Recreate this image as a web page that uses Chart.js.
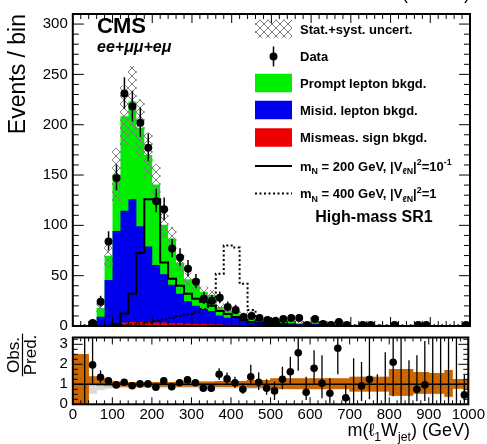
<!DOCTYPE html>
<html><head><meta charset="utf-8">
<script src="https://cdn.jsdelivr.net/npm/chart.js@4.4.1/dist/chart.umd.min.js"></script>
<style>
html,body{margin:0;padding:0;background:#fff;}
#wrap{position:relative;width:487px;height:444px;overflow:hidden;background:#fff;}
#wrap canvas{position:absolute;left:0;top:0;}
</style></head><body>
<div id="wrap"><canvas id="main" width="487" height="444"></canvas><canvas id="ratio" width="487" height="444"></canvas></div>
<script>
// ---------------- data ----------------
const binEdges = [0,20,40,60,80,100,120,140,160,180,200,220,240,260,280,300,320,340,360,380,400,420,440,460,480,500,520,540,560,580,600,620,640,660,680,700,720,740,760,780,800,820,840,860,880,900,920,940,960,980,1000];
const observed = [null,0,3,24,84,147,231,218,202,177, 124,116,77,68,57,44,27,25,28,19, 16,9,10,8,6,5,7,8,8,1, 7,2,1,4,1,0,1,1,0,0, 1,0,0,1,1,0,0,0,0,1];
const observedErrDown = [0,0,1.6,4.9,9.1,12.1,15.2,14.8,14.2,13.3, 11.1,10.8,8.8,8.2,7.5,6.6,5.2,5.0,5.3,4.3, 4.0,2.9,3.1,2.8,2.4,2.2,2.6,2.8,2.8,0.8, 2.6,1.3,0.8,1.9,0.8,0,0.8,0.8,0,0, 0.8,0,0,0.8,0.8,0,0,0,0,0.8];
const observedErrUp = [0,1.8,2.9,6.0,10.2,13.1,16.2,15.8,15.2,14.3, 12.2,11.8,9.8,9.3,8.6,7.7,6.3,6.1,6.3,5.4, 5.1,4.1,4.3,3.9,3.6,3.4,3.8,3.9,3.9,2.3, 3.8,2.6,2.3,3.2,2.3,1.8,2.3,2.3,1.8,1.8, 2.3,1.8,1.8,2.3,2.3,1.8,1.8,1.8,1.8,2.3];
const promptBkg = [0.2,0.2,0.5,8.7,24,56,94,97,98,91, 80,49,46,31,22,21,17,16,8.5,6.7, 6.8,5,3,3,3.3,3.4,2.6,2.2,1.3,0.6, 1.7,0.7,0.7,0.6,1.3,0.35,0.5,0.35,0.6,0.3, 0.2,0.2,0.4,0.6,0.5,0.2,0.2,0.2,0.2,1.0];
const misidBkg = [0.1,0.2,1.0,9,45,92,111,122,95,75, 57,48,38,29,22,18,15,13,9,7, 7,6,3.5,3.5,3.5,3.5,2.5,2.2,1.4,0.8, 1.8,0.9,0.8,0.6,1.4,0.35,0.5,0.35,0.5,0.3, 0.2,0.15,0.4,0.6,0.4,0.15,0.15,0.15,0.15,0.9];
const mismeasBkg = [0,0,0,0.3,0.8,2.5,3.5,4,4,4, 3.5,3.5,3,3,2.5,2.2,2,1.8,1.5,1.3, 1.2,1,0.8,0.8,0.7,0.6,0.5,0.5,0.4,0.3, 0.4,0.3,0.3,0.2,0.3,0.1,0.1,0.1,0.1,0.1, 0.1,0.05,0.05,0.1,0.1,0.05,0.05,0.05,0.05,0.2];
const bkgUncert = [0.3,0.4,0.8,4,11,26,30,35,28,22, 20,12,11,8,6,5.5,5,4.5,3,2.5, 2.5,2,1.3,1.3,1.5,1.5,1.2,1.1,0.8,0.5, 1,0.5,0.5,0.5,0.8,0.3,0.4,0.3,0.4,0.3, 0.3,0.2,0.3,0.4,0.3,0.2,0.2,0.2,0.2,0.6];
const signal200 = [0,0,0,0,0.3,2,12.5,32,72.5,126, 126,63,47,40,32,27,24,20,15,12, 9,6,4,2.5,1.5,1,0.6,0.4,0.3,0.2, 0.2,0.1,0.1,0.1,0.1,0.05,0.05,0.05,0.05,0.05, 0,0,0,0,0,0,0,0,0,0];
const signal400 = [0,0,0,0.2,0.3,0.5,1,1.5,2.5,3.5, 5,6.5,8,10,12,14,17,20,52,80, 78,42,16,6,3,2,1.5,1,0.8,0.6, 0.5,0.4,0.3,0.3,0.2,0.2,0.2,0.1,0.1,0.1, 0.1,0.1,0.1,0.1,0.1,0.1,0.1,0.1,0.1,0.1];
const ratioObsPred = [null,0,1.97,1.35,1.18,0.97,1.1,0.93,1.02,1.02, 0.85,1.17,0.88,1.08,1.22,1.08,0.8,0.8,1.5,1.27, 1.08,0.75,1.38,1.1,0.8,0.67,1.25,1.63,2.58,0.6, 1.8,1.05,0.55,2.8,0.33,0,0.92,1.25,0,0, 2.1,0,0,0.75,0.97,0,0,0,0,0.47];
const ratioErrDown = [0,0,1.0,0.3,0.13,0.08,0.07,0.065,0.07,0.08, 0.08,0.11,0.1,0.13,0.16,0.16,0.16,0.16,0.28,0.28, 0.26,0.24,0.43,0.38,0.32,0.45,0.5,0.6,0.9,0.38, 0.83,0.75,0.5,1.3,0.33,0,0.75,1.0,0,0, 1.7,0,0,0.6,0.8,0,0,0,0,0.4];
const ratioErrUp = [0,5,4,0.35,0.14,0.09,0.08,0.07,0.075,0.085, 0.085,0.12,0.11,0.14,0.18,0.18,0.18,0.18,0.3,0.32, 0.3,0.3,0.6,0.5,0.45,0.46,0.63,0.75,0.75,0.78, 0.9,1.4,0.75,1.5,0.64,2.3,1.2,2.2,1.5,2.6, 2.5,5,2.2,1.7,2.2,5,5,5,5,1.0];
const bandLow = [0,0,0.97,0.95,0.92,0.9,0.9,0.9,0.9,0.9, 0.9,0.9,0.9,0.9,0.9,0.9,0.9,0.9,0.88,0.88, 0.88,0.88,0.85,0.85,0.85,0.78,0.78,0.78,0.78,0.78, 0.78,0.78,0.78,0.78,0.78,0.66,0.66,0.66,0.66,0.66, 0.45,0.45,0.45,0.55,0.55,0.55,0.55,0.4,0.8,0.8];
const bandHigh = [2.5,2.5,1.38,1.3,1.17,1.12,1.1,1.1,1.1,1.1, 1.1,1.1,1.1,1.12,1.12,1.12,1.12,1.12,1.15,1.15, 1.15,1.15,1.2,1.2,1.2,1.28,1.28,1.28,1.28,1.28, 1.28,1.28,1.28,1.28,1.28,1.36,1.36,1.36,1.36,1.36, 1.75,1.75,1.75,1.6,1.6,1.55,1.55,1.7,1.25,1.25];
const grayLow = [0,0,0.55,0.72,0.8,0.82,0.82,0.82,0.82,0.82, 0.82,0.82,0.82,0.82,0.82,0.82,0.82,0.82,0.8,0.8, 0.8,0.8,0.78,0.78,0.78,0.75,0.75,0.75,0.75,0.75, 0.75,0.75,0.75,0.75,0.75,0.63,0.63,0.63,0.63,0.63, 0.42,0.42,0.42,0.52,0.52,0.52,0.52,0.37,0.77,0.77];
const mainYTicks = {min:0, max:310, step:50, minor:10};
const ratioYTicks = {min:0, max:3.34, step:1, minor:0.25};
const xTicks = {min:0, max:1000, step:100, minor:20};

// ---------------- styles ----------------
const F = '"Liberation Sans", Arial, Helvetica, sans-serif';
const COL = {prompt:'#00ee00', misid:'#0000ee', mismeas:'#ee0000', band:'#cc6600', gray:'#d9d9d9', hatch:'#7d7d7d'};
Chart.defaults.font.family = F;
Chart.defaults.color = '#000';

// ---------------- helpers ----------------
const centers = binEdges.slice(0,-1).map((e,i)=>(e+binEdges[i+1])/2);
function stepPts(vals){
  const p = vals.map((v,i)=>({x:binEdges[i], y:v}));
  p.push({x:binEdges[vals.length], y:vals[vals.length-1]});
  return p;
}
const stackRed = mismeasBkg.slice();
const stackBlue = stackRed.map((v,i)=>v+misidBkg[i]);
const stackTotal = stackBlue.map((v,i)=>v+promptBkg[i]);
const plainTick = (v)=>String(v);

function makeHatch(ctx){
  const c=document.createElement('canvas'); c.width=8; c.height=8;
  const g=c.getContext('2d'); g.strokeStyle=COL.hatch; g.lineWidth=1;
  g.beginPath(); g.moveTo(-1,-1); g.lineTo(9,9); g.moveTo(9,-1); g.lineTo(-1,9); g.stroke();
  return ctx.createPattern(c,'repeat');
}
function drawRich(ctx, x, y, parts, size, weight, style, measureOnly){
  let cx = x;
  for (const [t,k] of parts){
    const s = k ? size*0.68 : size;
    ctx.font = `${style||'normal'} ${weight||'normal'} ${s}px ${F}`;
    const dy = k==='sub' ? size*0.28 : (k==='sup' ? -size*0.42 : 0);
    if(!measureOnly) ctx.fillText(t, cx, y+dy);
    cx += ctx.measureText(t).width;
  }
  return cx - x;
}

// ---------------- plugins ----------------
const errorBars = {
  id:'errorBars',
  afterDatasetsDraw(chart, args, o){
    const {ctx, chartArea:a, scales:{x,y}} = chart;
    ctx.save(); ctx.beginPath(); ctx.rect(a.left, a.top, a.width, a.height); ctx.clip();
    ctx.strokeStyle='#000'; ctx.lineWidth=o.width;
    o.values.forEach((v,i)=>{
      if (v===null || i < o.firstBin) return;
      const up=o.up[i], dn=o.down[i];
      if (up===0 && dn===0) return;
      const px = x.getPixelForValue(centers[i]);
      ctx.beginPath(); ctx.moveTo(px, y.getPixelForValue(v-dn)); ctx.lineTo(px, y.getPixelForValue(v+up)); ctx.stroke();
    });
    ctx.restore();
  }
};
const frameTicks = {
  id:'frameTicks',
  afterDraw(chart, args, o){
    const {ctx, chartArea:a, scales:{x,y}} = chart;
    ctx.save(); ctx.strokeStyle='#000'; ctx.lineWidth=1;
    const seg=(x1,y1,x2,y2)=>{ctx.beginPath();ctx.moveTo(x1,y1);ctx.lineTo(x2,y2);ctx.stroke();};
    const nx = Math.round((xTicks.max-xTicks.min)/xTicks.minor);
    for(let k=0;k<=nx;k++){
      const v = xTicks.min + k*xTicks.minor;
      const L = (Math.abs(v/xTicks.step - Math.round(v/xTicks.step))<1e-6) ? o.xMaj : o.xMin;
      const px = x.getPixelForValue(v);
      seg(px, a.bottom, px, a.bottom-L); seg(px, a.top, px, a.top+L);
    }
    const t = o.yt; const ny = Math.floor((t.max-t.min)/t.minor+1e-6);
    for(let k=0;k<=ny;k++){
      const v = t.min + k*t.minor;
      const L = (Math.abs(v/t.step - Math.round(v/t.step))<1e-6) ? o.yMaj : o.yMin;
      const py = y.getPixelForValue(v);
      seg(a.left, py, a.left+L, py); seg(a.right, py, a.right-L, py);
    }
    ctx.lineWidth=2; ctx.strokeRect(a.left, a.top, a.width, a.height);
    ctx.restore();
  }
};
const legendRows = [
  {kind:'hatch', parts:[['Stat.+syst. uncert.','']]},
  {kind:'data', parts:[['Data','']]},
  {kind:'box', color:COL.prompt, parts:[['Prompt lepton bkgd.','']]},
  {kind:'box', color:COL.misid, parts:[['Misid. lepton bkgd.','']]},
  {kind:'box', color:COL.mismeas, parts:[['Mismeas. sign bkgd.','']]},
  {kind:'solid', parts:[['m',''],['N','sub'],[' = 200 GeV, |V',''],['\u2113N','sub'],['|',''],['2','sup'],['=10',''],['-1','sup']]},
  {kind:'dotted', parts:[['m',''],['N','sub'],[' = 400 GeV, |V',''],['\u2113N','sub'],['|',''],['2','sup'],['=1','']]}
];
const mainTexts = {
  id:'mainTexts',
  afterDraw(chart){
    const ctx = chart.ctx; ctx.save(); ctx.fillStyle='#000'; ctx.textBaseline='alphabetic'; ctx.textAlign='left';
    ctx.font=`bold 22px ${F}`; ctx.fillText('CMS', 97, 33);
    ctx.font=`italic bold 16px ${F}`; ctx.fillText('ee+\u03bc\u03bc+e\u03bc', 97, 52);
    ctx.font=`18px ${F}`; ctx.textAlign='right'; ctx.fillText('35.9 fb\u207b\u00b9 (13 TeV)', 470, -1.5);
    ctx.textAlign='left';
    const rowY=[29,56.5,83,110,137.5,166,193.5];
    const bx=255, bw=37, bh=18.5, tx=300;
    legendRows.forEach((r,i)=>{
      const yc=rowY[i];
      if(r.kind==='hatch'){ ctx.fillStyle=chart.$hatch; ctx.fillRect(bx, yc-bh/2, bw, bh); }
      else if(r.kind==='box'){ ctx.fillStyle=r.color; ctx.fillRect(bx, yc-bh/2, bw, bh); }
      else if(r.kind==='data'){
        ctx.strokeStyle='#000'; ctx.lineWidth=1.5; ctx.beginPath(); ctx.moveTo(bx+bw/2, yc-10); ctx.lineTo(bx+bw/2, yc+10); ctx.stroke();
        ctx.fillStyle='#000'; ctx.beginPath(); ctx.arc(bx+bw/2, yc, 4, 0, 2*Math.PI); ctx.fill();
      } else {
        ctx.strokeStyle='#000'; ctx.lineWidth=2; ctx.setLineDash(r.kind==='dotted'?[2,2.5]:[]);
        ctx.beginPath(); ctx.moveTo(bx, yc); ctx.lineTo(bx+bw, yc); ctx.stroke(); ctx.setLineDash([]);
      }
      ctx.fillStyle='#000';
      drawRich(ctx, tx, yc+4.7, r.parts, 13, 'bold', 'normal');
    });
    ctx.font=`bold 16px ${F}`; ctx.textAlign='center'; ctx.fillText('High-mass SR1', 374, 221.5);
    ctx.restore();
  }
};
const ratioTexts = {
  id:'ratioTexts',
  afterDraw(chart){
    const ctx = chart.ctx; ctx.save(); ctx.fillStyle='#000'; ctx.textBaseline='alphabetic'; ctx.textAlign='left';
    const parts=[['m(\u2113',''],['1','sub'],['W',''],['jet','sub'],[') (GeV)','']];
    const w = drawRich(ctx, 0, 0, parts, 18, 'normal', 'normal', true);
    drawRich(ctx, 470-w, 436, parts, 18, 'normal', 'normal');
    ctx.translate(22.5, 355); ctx.rotate(-Math.PI/2);
    ctx.font=`17px ${F}`; ctx.textAlign='center';
    ctx.fillText('Obs.', 0, -3.5); ctx.fillText('Pred.', 0, 13.5);
    const pw = ctx.measureText('Pred.').width;
    ctx.strokeStyle='#000'; ctx.lineWidth=1.2; ctx.beginPath(); ctx.moveTo(-pw/2-1,0); ctx.lineTo(pw/2+1,0); ctx.stroke();
    ctx.restore();
  }
};

// ---------------- main panel ----------------
const mctx = document.getElementById('main').getContext('2d');
const hatch = makeHatch(mctx);
const mainChart = new Chart(mctx, {
  type:'line',
  data:{datasets:[
    {type:'line', label:'Data', data:centers.map((c,i)=>({x:c, y:(observed[i]>0?observed[i]:null)})), showLine:false,
     pointRadius:4, pointBackgroundColor:'#000', pointBorderWidth:0, pointBorderColor:'#000', order:0},
    {type:'line', label:'mN400', data:stepPts(signal400), stepped:true, borderColor:'#000', borderWidth:2, borderDash:[2,2.5], pointRadius:0, fill:false, order:1},
    {type:'line', label:'mN200', data:stepPts(signal200), stepped:true, borderColor:'#000', borderWidth:2, pointRadius:0, fill:false, order:2},
    {type:'bar', label:'Stat.+syst. uncert.', data:centers.map((c,i)=>({x:c, y:[stackTotal[i]-bkgUncert[i], stackTotal[i]+bkgUncert[i]]})),
     backgroundColor:hatch, borderWidth:0, barPercentage:1, categoryPercentage:1, grouped:false, order:3},
    {type:'line', label:'Mismeas', data:stepPts(stackRed), stepped:true, borderColor:'rgba(0,0,0,0)', borderWidth:0, backgroundColor:COL.mismeas, fill:'origin', pointRadius:0, order:4},
    {type:'line', label:'Misid', data:stepPts(stackBlue), stepped:true, borderColor:'rgba(0,0,0,0)', borderWidth:0, backgroundColor:COL.misid, fill:'origin', pointRadius:0, order:5},
    {type:'line', label:'Prompt', data:stepPts(stackTotal), stepped:true, borderColor:'rgba(0,0,0,0)', borderWidth:0, backgroundColor:COL.prompt, fill:'origin', pointRadius:0, order:6}
  ]},
  options:{
    responsive:false, animation:false, events:[],
    layout:{padding:{left:0, right:17, top:7.5, bottom:118}},
    plugins:{legend:{display:false}, tooltip:{enabled:false},
      errorBars:{values:observed, up:observedErrUp, down:observedErrDown, width:1.5, firstBin:1},
      frameTicks:{xMaj:9, xMin:5, yMaj:11, yMin:6, yt:mainYTicks}},
    scales:{
      x:{type:'linear', min:xTicks.min, max:xTicks.max, offset:false, display:false},
      y:{type:'linear', min:mainYTicks.min, max:mainYTicks.max, afterFit(s){s.width=72.8;},
         grid:{display:false, drawTicks:false}, border:{display:false},
         ticks:{stepSize:mainYTicks.step, includeBounds:false, padding:5, font:{size:15}, color:'#000', callback:plainTick},
         title:{display:true, text:'Events / bin', align:'end', font:{size:23}, padding:{top:5,bottom:0}, color:'#000'}}
    }
  },
  plugins:[errorBars, frameTicks, mainTexts]
});
mainChart.$hatch = hatch; mainChart.draw();

// ---------------- ratio panel ----------------
const rctx = document.getElementById('ratio').getContext('2d');
new Chart(rctx, {
  type:'line',
  data:{datasets:[
    {type:'line', label:'Obs/Pred', data:centers.map((c,i)=>({x:c, y:(ratioObsPred[i]===null?null:ratioObsPred[i])})), showLine:false,
     pointRadius:(c)=>{const v=c.raw&&c.raw.y; return v>0?3.8:0;}, pointBackgroundColor:'#000', pointBorderWidth:0, order:0},
    {type:'line', label:'unity', data:[{x:xTicks.min,y:1},{x:xTicks.max,y:1}], borderColor:'#000', borderWidth:1.5, pointRadius:0, fill:false, order:1},
    {type:'bar', label:'band', data:centers.map((c,i)=>({x:c, y:[bandLow[i], bandHigh[i]]})), backgroundColor:COL.band, borderWidth:0,
     barPercentage:1, categoryPercentage:1, grouped:false, order:2},
    {type:'bar', label:'gray', data:centers.map((c,i)=>({x:c, y:[grayLow[i], bandHigh[i]]})), backgroundColor:COL.gray, borderWidth:0,
     barPercentage:1, categoryPercentage:1, grouped:false, order:3}
  ]},
  options:{
    responsive:false, animation:false, events:[],
    layout:{padding:{left:0, right:17, top:337.5, bottom:17.7}},
    plugins:{legend:{display:false}, tooltip:{enabled:false},
      errorBars:{values:ratioObsPred, up:ratioErrUp, down:ratioErrDown, width:1.3, firstBin:1},
      frameTicks:{xMaj:7, xMin:4, yMaj:10, yMin:5, yt:ratioYTicks}},
    scales:{
      x:{type:'linear', min:xTicks.min, max:xTicks.max, offset:false, afterFit(s){s.height=22;},
         grid:{display:false, drawTicks:false}, border:{display:false},
         ticks:{stepSize:xTicks.step, padding:2, font:{size:15}, color:'#000', maxRotation:0, autoSkip:false, callback:plainTick}},
      y:{type:'linear', min:ratioYTicks.min, max:ratioYTicks.max, afterFit(s){s.width=72.8;},
         grid:{display:false, drawTicks:false}, border:{display:false},
         ticks:{stepSize:ratioYTicks.step, includeBounds:false, padding:5, font:{size:15}, color:'#000', callback:plainTick}}
    }
  },
  plugins:[errorBars, frameTicks, ratioTexts]
});
</script>
</body></html>
